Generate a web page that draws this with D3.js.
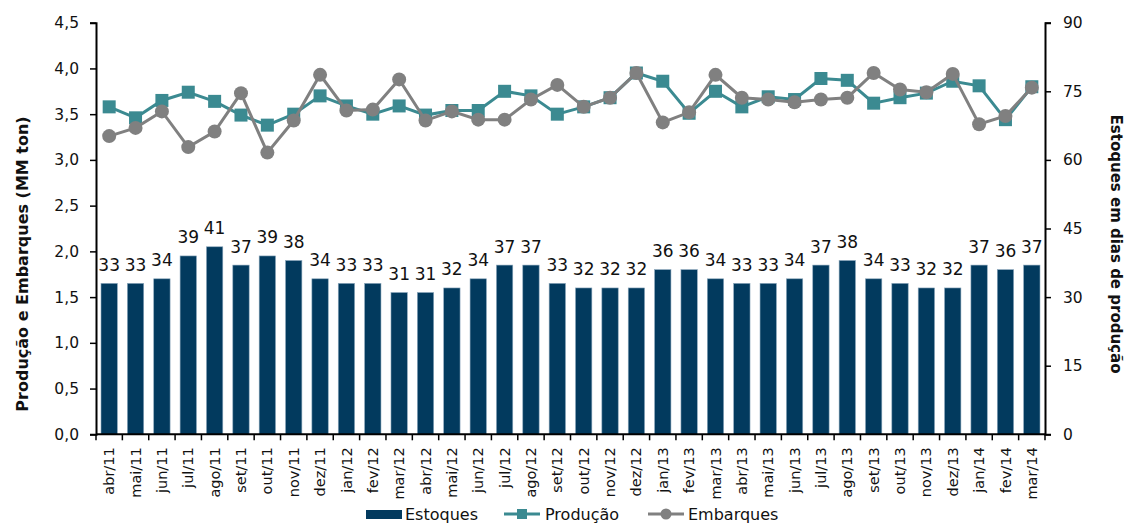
<!DOCTYPE html>
<html><head><meta charset="utf-8">
<script src="https://cdn.jsdelivr.net/npm/d3@7"></script>
<style>
html,body{margin:0;padding:0;background:#fff;}
svg{display:block;font-family:"DejaVu Sans",sans-serif;}
</style></head>
<body>
<svg id="chart" width="1127" height="524"></svg>
<script>
const categories = ["abr/11","mai/11","jun/11","jul/11","ago/11","set/11","out/11","nov/11","dez/11",
"jan/12","fev/12","mar/12","abr/12","mai/12","jun/12","jul/12","ago/12","set/12","out/12","nov/12","dez/12",
"jan/13","fev/13","mar/13","abr/13","mai/13","jun/13","jul/13","ago/13","set/13","out/13","nov/13","dez/13",
"jan/14","fev/14","mar/14"];
const estoques = [33,33,34,39,41,37,39,38,34,33,33,31,31,32,34,37,37,33,32,32,32,36,36,34,33,33,34,37,38,34,33,32,32,37,36,37];
const producao = [3.58,3.46,3.65,3.74,3.64,3.49,3.38,3.50,3.70,3.59,3.50,3.59,3.49,3.54,3.54,3.75,3.70,3.50,
3.58,3.68,3.95,3.86,3.51,3.75,3.58,3.69,3.66,3.89,3.87,3.62,3.68,3.73,3.86,3.81,3.44,3.80];
const embarques = [3.26,3.35,3.53,3.14,3.31,3.73,3.08,3.43,3.93,3.54,3.55,3.88,3.43,3.53,3.44,3.44,3.66,3.82,
3.58,3.68,3.95,3.41,3.52,3.93,3.68,3.66,3.63,3.66,3.68,3.95,3.77,3.74,3.94,3.39,3.48,3.79];
const leftTicks = [0,0.5,1,1.5,2,2.5,3,3.5,4,4.5];
const rightTicks = [0,15,30,45,60,75,90];

const svg = d3.select("#chart");
const L = 96, R = 1045, T = 22.7, B = 434.3;
const navy = "#023a5e", teal = "#3b8a91", gray = "#808080";

const x = d3.scaleBand().domain(categories).range([L, R]).paddingInner(0.38).paddingOuter(0.19);
const yL = d3.scaleLinear().domain([0, 4.5]).range([B, T]);
const yR = d3.scaleLinear().domain([0, 90]).range([B, T]);
const fmt = d => d3.format(".1f")(d).replace(".", ",");

// bars
svg.append("g").selectAll("rect").data(estoques).join("rect")
  .attr("x", (d,i) => x(categories[i]))
  .attr("width", x.bandwidth())
  .attr("y", d => yR(d))
  .attr("height", d => B - yR(d))
  .attr("fill", navy).attr("stroke", "#8aa6bb").attr("stroke-width", 0.6);

svg.append("g").selectAll("text").data(estoques).join("text")
  .attr("x", (d,i) => x(categories[i]) + x.bandwidth()/2)
  .attr("y", d => yR(d) - 12.5)
  .attr("text-anchor", "middle").attr("font-size", 17).attr("fill", "#111")
  .text(d => d);

const cx = i => x(categories[i]) + x.bandwidth()/2;
// Produção line
svg.append("path").datum(producao)
  .attr("d", d3.line().x((d,i) => cx(i)).y(d => yL(d)))
  .attr("fill", "none").attr("stroke", teal).attr("stroke-width", 3);
svg.append("g").selectAll("rect").data(producao).join("rect")
  .attr("x", (d,i) => cx(i) - 6.5).attr("y", d => yL(d) - 6.5)
  .attr("width", 13).attr("height", 13).attr("fill", teal);
// Embarques line
svg.append("path").datum(embarques)
  .attr("d", d3.line().x((d,i) => cx(i)).y(d => yL(d)))
  .attr("fill", "none").attr("stroke", gray).attr("stroke-width", 3);
svg.append("g").selectAll("circle").data(embarques).join("circle")
  .attr("cx", (d,i) => cx(i)).attr("cy", d => yL(d)).attr("r", 7).attr("fill", gray);

// axes
const axL = svg.append("g").attr("transform", `translate(${L},0)`)
  .call(d3.axisLeft(yL).tickValues(leftTicks).tickFormat(fmt).tickSize(6).tickPadding(11));
const axR = svg.append("g").attr("transform", `translate(${R},0)`)
  .call(d3.axisRight(yR).tickValues(rightTicks).tickSize(6).tickPadding(12));
[axL, axR].forEach(a => {
  a.select(".domain").attr("stroke", "#000").attr("stroke-width", 2);
  a.selectAll(".tick line").attr("stroke", "#000").attr("stroke-width", 1.5);
  a.selectAll("text").attr("font-size", 15.5).attr("fill", "#111").attr("font-family", "DejaVu Sans");
});

// x axis
const axB = svg.append("g").attr("transform", `translate(0,${B})`)
  .call(d3.axisBottom(x).tickSize(0).tickSizeOuter(0));
axB.select(".domain").attr("stroke", "#000").attr("stroke-width", 2).attr("d", `M${L},0H${R}`);
axB.selectAll(".tick text")
  .attr("font-size", 14.5).attr("fill", "#111").attr("font-family", "DejaVu Sans")
  .attr("transform", "rotate(-90)").attr("text-anchor", "end")
  .attr("x", -13).attr("y", 0).attr("dy", "0.35em");
// boundary ticks
const bounds = categories.map(c => x(c) - x.step()*x.paddingInner()/2).concat([R]);
svg.append("g").selectAll("line").data(bounds).join("line")
  .attr("x1", d => d).attr("x2", d => d).attr("y1", B).attr("y2", B + 6)
  .attr("stroke", "#000").attr("stroke-width", 1.5);

// axis titles
svg.append("text").attr("transform", "translate(28,264) rotate(-90)")
  .attr("text-anchor", "middle").attr("font-size", 16).attr("font-weight", "bold").attr("fill", "#111")
  .text("Produção e Embarques (MM ton)");
svg.append("text").attr("transform", "translate(1111,244) rotate(90)")
  .attr("text-anchor", "middle").attr("font-size", 15).attr("font-weight", "bold").attr("fill", "#111")
  .text("Estoques em dias de produção");

// legend
const lg = svg.append("g").attr("font-size", 16).attr("fill", "#111");
lg.append("rect").attr("x", 366).attr("y", 510).attr("width", 36).attr("height", 9).attr("fill", navy);
lg.append("text").attr("x", 405).attr("y", 520).text("Estoques");
lg.append("line").attr("x1", 504).attr("x2", 540).attr("y1", 514).attr("y2", 514).attr("stroke", teal).attr("stroke-width", 3);
lg.append("rect").attr("x", 517).attr("y", 509).attr("width", 10).attr("height", 10).attr("fill", teal);
lg.append("text").attr("x", 545).attr("y", 520).text("Produção");
lg.append("line").attr("x1", 648).attr("x2", 684).attr("y1", 514).attr("y2", 514).attr("stroke", gray).attr("stroke-width", 3);
lg.append("circle").attr("cx", 666).attr("cy", 514).attr("r", 5.5).attr("fill", gray);
lg.append("text").attr("x", 688).attr("y", 520).text("Embarques");
</script>
</body></html>
